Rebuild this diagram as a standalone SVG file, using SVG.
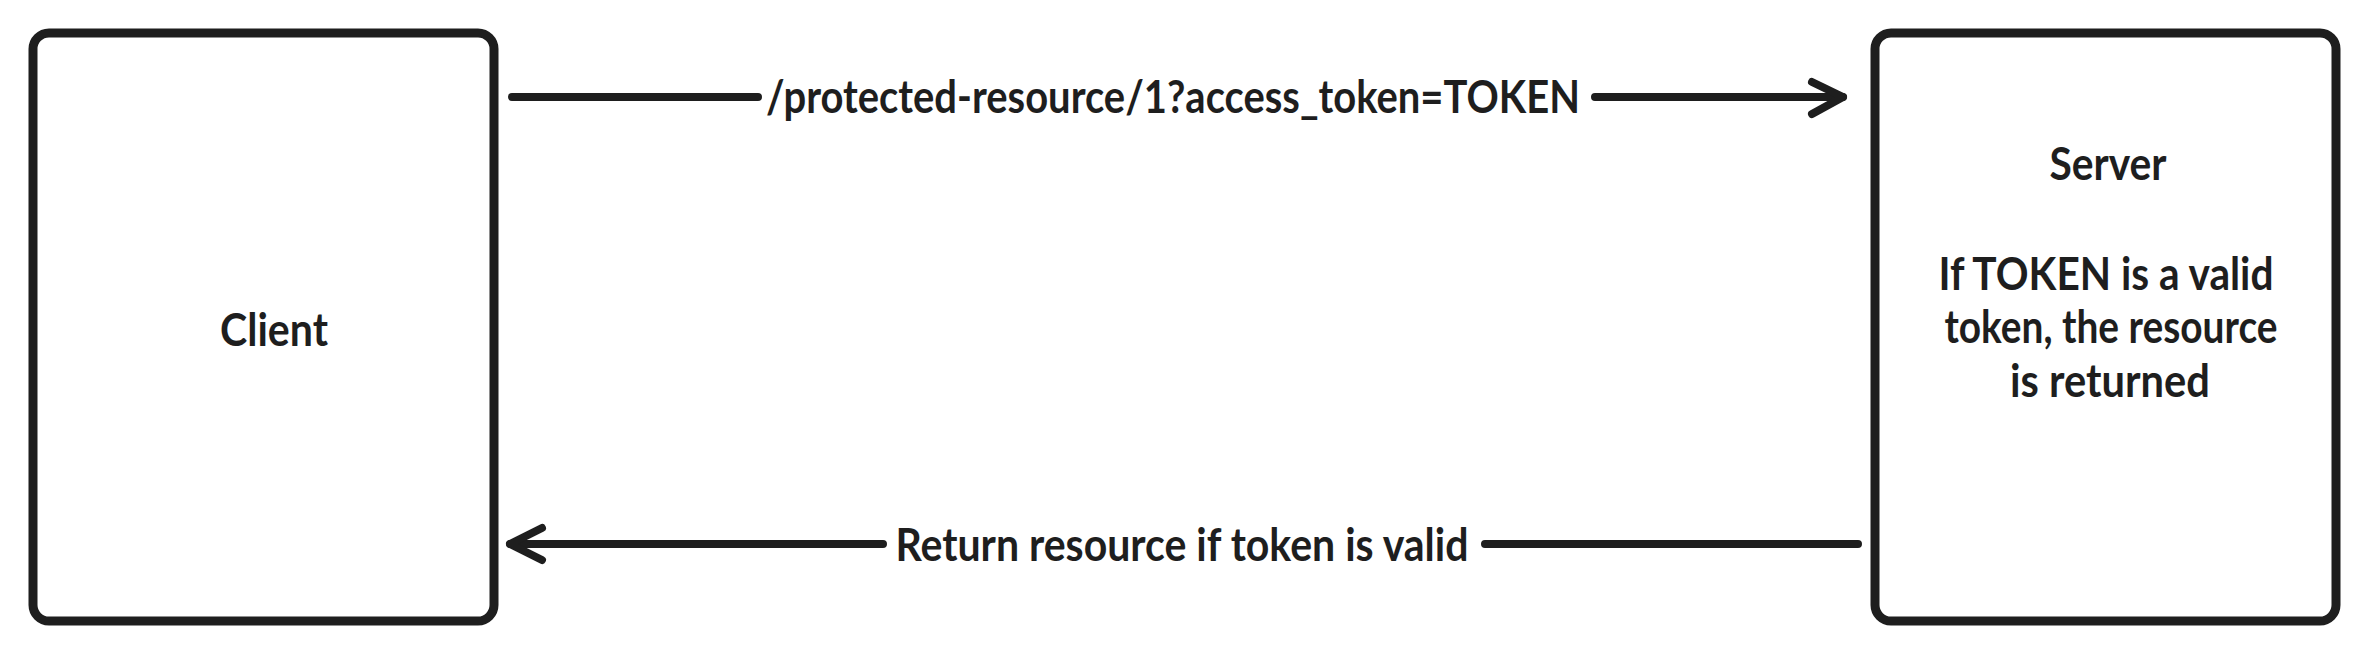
<svg xmlns="http://www.w3.org/2000/svg" width="2368" height="656" viewBox="0 0 2368 656">
  <defs>
    <style>
      .box { fill: #ffffff; stroke: #1e1e1e; stroke-width: 9; stroke-linejoin: round; }
      .line { fill: none; stroke: #1e1e1e; stroke-width: 8; stroke-linecap: round; stroke-linejoin: round; }
      .txt { font-family: "Lato", "Open Sans", "Liberation Sans", sans-serif; font-weight: 700; font-size: 45px; fill: #1e1e1e; text-anchor: middle; }
    </style>
  </defs>
  <rect width="2368" height="656" fill="#ffffff"/>

  <g id="client">
    <rect class="box" x="33" y="33" width="461" height="588" rx="16" ry="16"/>
    <text class="txt" x="274" y="346" textLength="108" lengthAdjust="spacingAndGlyphs">Client</text>
  </g>

  <g id="server">
    <rect class="box" x="1875" y="33" width="461" height="588" rx="16" ry="16"/>
    <text class="txt" x="2108" y="180" textLength="117" lengthAdjust="spacingAndGlyphs">Server</text>
    <text class="txt" x="2106" y="290" textLength="335" lengthAdjust="spacingAndGlyphs">If TOKEN is a valid</text>
    <text class="txt" x="2111" y="343" textLength="333" lengthAdjust="spacingAndGlyphs">token, the resource</text>
    <text class="txt" x="2110" y="397" textLength="200" lengthAdjust="spacingAndGlyphs">is returned</text>
  </g>

  <g id="connectors">
    <g id="request">
      <path class="line" d="M512 97 L758 97 M1595 97 L1843 97"/>
      <path class="line" d="M1812 82 L1843 97 L1812 114"/>
      <text class="txt" x="1173" y="113" textLength="814" lengthAdjust="spacingAndGlyphs">/protected-resource/1?access_token=TOKEN</text>
    </g>
    <g id="response">
      <path class="line" d="M1858 544 L1485 544 M883 544 L510 544"/>
      <path class="line" d="M542 528 L510 544 L542 560"/>
      <text class="txt" x="1182" y="561" textLength="573" lengthAdjust="spacingAndGlyphs">Return resource if token is valid</text>
    </g>
  </g>
</svg>
